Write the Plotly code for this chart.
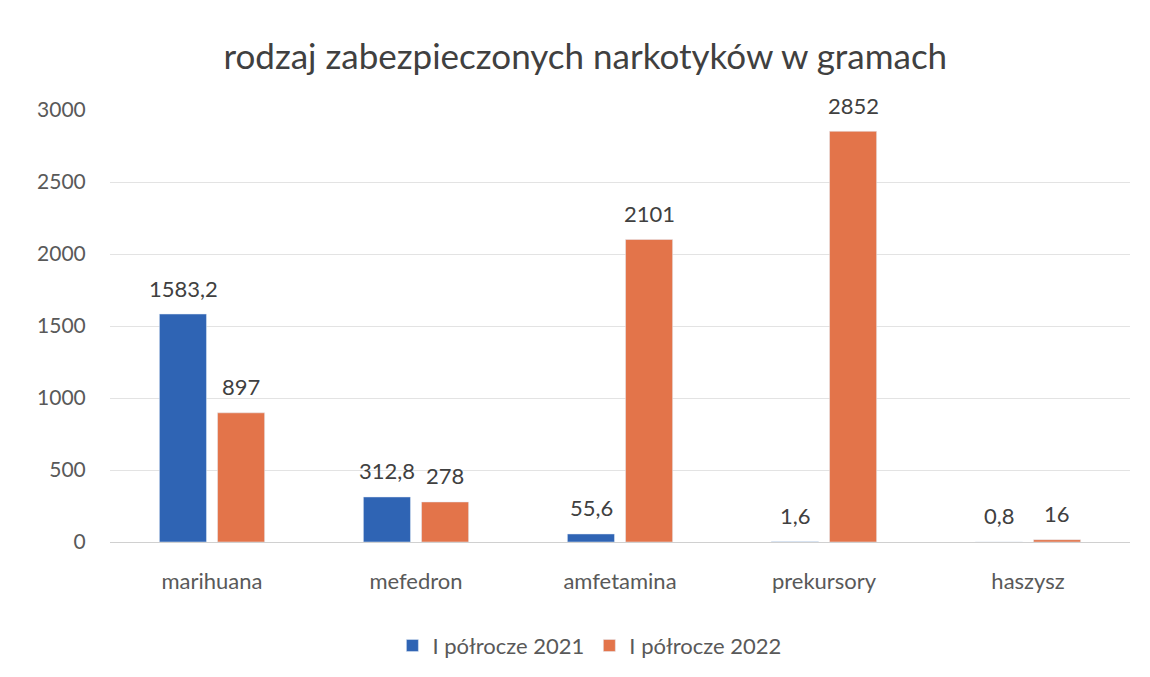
import plotly.graph_objects as go

# data
categories = ["marihuana", "mefedron", "amfetamina", "prekursory", "haszysz"]
series_2021 = [1583.2, 312.8, 55.6, 1.6, 0.8]
series_2022 = [897, 278, 2101, 2852, 16]
series_names = ["I półrocze 2021", "I półrocze 2022"]
y_ticks = [0, 500, 1000, 1500, 2000, 2500, 3000]

BLUE = "#2F64B4"
ORANGE = "#E3744A"
TEXT = "#595959"
FONT = "Lato"


def pl_number(v):
    """Polish decimal comma, no trailing .0"""
    s = f"{v:g}"
    return s.replace(".", ",")


fig = go.Figure()
fig.add_trace(go.Bar(x=categories, y=series_2021, name=series_names[0],
                     marker_color=BLUE))
fig.add_trace(go.Bar(x=categories, y=series_2022, name=series_names[1],
                     marker_color=ORANGE))

# data labels above the bars
for vals, shift in [(series_2021, -29), (series_2022, 29)]:
    for cat, v in zip(categories, vals):
        fig.add_annotation(x=cat, y=v, text=pl_number(v), showarrow=False,
                           xshift=shift, yshift=26, yanchor="middle",
                           font=dict(size=22, color="#404040", family=FONT))

fig.update_layout(
    title=dict(text="rodzaj zabezpieczonych narkotyków w gramach",
               x=0.502, xanchor="center", y=0.928, yanchor="middle",
               font=dict(size=35, color="#404040", family=FONT)),
    width=1150, height=677,
    margin=dict(l=102, r=28, t=102, b=143),
    paper_bgcolor="white", plot_bgcolor="white",
    barmode="group", bargap=0.43, bargroupgap=0.19,
    font=dict(family=FONT, size=22, color=TEXT),
    legend=dict(orientation="h", x=0.47, xanchor="center", y=-0.24,
                yanchor="middle", font=dict(size=22, color=TEXT),
                itemwidth=30, traceorder="normal"),
    showlegend=True,
)
fig.update_yaxes(range=[0, 3000], tickvals=y_ticks, showgrid=True,
                 gridcolor="#E3E3E3", gridwidth=1, zeroline=False,
                 showline=False, ticks="outside", ticklen=19,
                 tickcolor="white", tickfont=dict(size=21, color=TEXT))
fig.update_xaxes(showline=True, linecolor="#D0D0D0", linewidth=1,
                 ticks="outside", ticklen=20, tickcolor="white",
                 tickfont=dict(size=22, color=TEXT))

fig.write_html("out.html")
